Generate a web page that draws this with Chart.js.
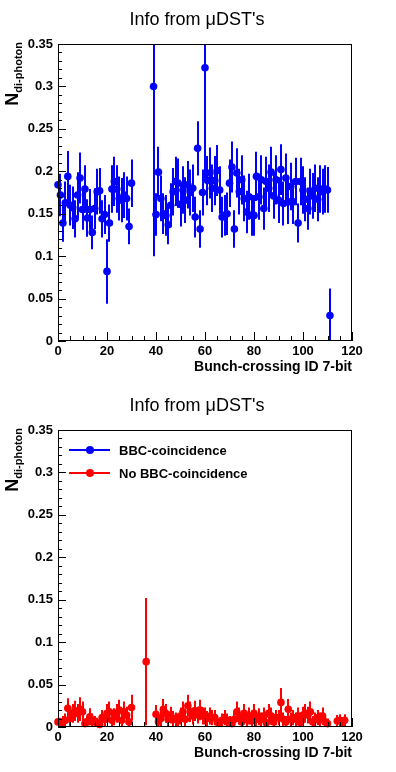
<!DOCTYPE html>
<html>
<head>
<meta charset="utf-8">
<script src="https://cdn.jsdelivr.net/npm/chart.js@4.4.1/dist/chart.umd.min.js"></script>
<style>
  html, body { margin: 0; padding: 0; background: #fff; }
  canvas { display: block; }
</style>
</head>
<body>
<canvas id="topChart" width="396" height="386"></canvas>
<canvas id="bottomChart" width="396" height="386"></canvas>
<script>
// values indexed by bunch-crossing ID, null = empty bin
const topValues = [
  0.184, 0.172, 0.139, 0.163, 0.194, 0.160, 0.157, 0.144, 0.172, 0.192,
  0.155, 0.179, 0.145, 0.155, 0.128, 0.156, 0.176, 0.177, 0.144, 0.149,
  0.082, 0.139, 0.179, 0.188, 0.179, 0.168, 0.166, 0.172, 0.168, 0.135,
  0.186, null, null, null, null, null, null, null, null, 0.300,
  0.149, 0.199, 0.168, 0.150, 0.148, 0.137, 0.160, 0.176, 0.188, 0.186,
  0.161, 0.178, 0.166, 0.184, 0.175, 0.180, 0.146, 0.227, 0.132, 0.175,
  0.322, 0.189, 0.198, 0.180, 0.189, 0.201, 0.178, 0.146, 0.148, 0.150,
  0.186, 0.205, 0.132, 0.198, 0.176, 0.190, 0.168, 0.152, 0.170, 0.148,
  0.148, 0.194, 0.170, 0.190, 0.156, 0.188, 0.180, 0.199, 0.171, 0.190,
  0.166, 0.202, 0.162, 0.192, 0.164, 0.182, 0.164, 0.188, 0.139, 0.188,
  0.178, 0.167, 0.156, 0.176, 0.171, 0.180, 0.167, 0.179, 0.176, 0.179,
  0.178, 0.030
];
const topErrors = [
  0.028, 0.025, 0.022, 0.025, 0.030, 0.024, 0.025, 0.022, 0.027, 0.030,
  0.024, 0.028, 0.022, 0.024, 0.020, 0.024, 0.027, 0.027, 0.022, 0.023,
  0.038, 0.022, 0.028, 0.029, 0.028, 0.026, 0.026, 0.027, 0.026, 0.021,
  0.028, null, null, null, null, null, null, null, null, 0.200,
  0.025, 0.030, 0.027, 0.024, 0.024, 0.023, 0.026, 0.028, 0.029, 0.029,
  0.026, 0.028, 0.027, 0.028, 0.027, 0.028, 0.024, 0.032, 0.022, 0.027,
  0.130, 0.029, 0.030, 0.028, 0.029, 0.030, 0.028, 0.024, 0.024, 0.025,
  0.028, 0.030, 0.022, 0.029, 0.027, 0.029, 0.027, 0.025, 0.027, 0.024,
  0.024, 0.029, 0.027, 0.029, 0.025, 0.029, 0.028, 0.030, 0.027, 0.029,
  0.027, 0.030, 0.026, 0.029, 0.026, 0.028, 0.026, 0.028, 0.023, 0.028,
  0.028, 0.026, 0.025, 0.027, 0.027, 0.028, 0.026, 0.028, 0.027, 0.028,
  0.027, 0.032
];
const bottomValues = [
  0.006, 0.005, 0.006, 0.008, 0.022, 0.010, 0.016, 0.019, 0.016, 0.021,
  0.018, 0.004, 0.006, 0.012, 0.008, 0.006, 0.005, 0.003, 0.011, 0.009,
  0.016, 0.018, 0.008, 0.012, 0.016, 0.020, 0.008, 0.018, 0.014, 0.006,
  0.023, null, null, null, null, null, 0.077, null, null, null,
  0.015, 0.006, 0.010, 0.021, 0.016, 0.009, 0.014, 0.010, 0.009, 0.007,
  0.013, 0.018, 0.009, 0.025, 0.018, 0.013, 0.019, 0.014, 0.020, 0.013,
  0.013, 0.010, 0.013, 0.011, 0.011, 0.006, 0.005, 0.008, 0.011, 0.008,
  0.006, 0.004, 0.009, 0.018, 0.013, 0.006, 0.016, 0.009, 0.013, 0.007,
  0.016, 0.009, 0.012, 0.009, 0.013, 0.005, 0.016, 0.013, 0.006, 0.011,
  0.011, 0.029, 0.009, 0.006, 0.021, 0.009, 0.011, 0.009, 0.013, 0.005,
  0.014, 0.016, 0.014, 0.018, 0.006, 0.009, 0.011, 0.009, 0.013, 0.006,
  0.004, null, null, null, 0.007, 0.008, 0.005, 0.008
];
const bottomErrors = [
  0.007, 0.006, 0.007, 0.008, 0.012, 0.009, 0.011, 0.012, 0.011, 0.014,
  0.012, 0.006, 0.007, 0.010, 0.008, 0.007, 0.006, 0.005, 0.009, 0.009,
  0.011, 0.012, 0.008, 0.010, 0.011, 0.012, 0.008, 0.012, 0.010, 0.007,
  0.015, null, null, null, null, null, 0.075, null, null, null,
  0.011, 0.007, 0.009, 0.012, 0.011, 0.008, 0.010, 0.009, 0.008, 0.007,
  0.010, 0.012, 0.008, 0.013, 0.012, 0.010, 0.012, 0.010, 0.012, 0.010,
  0.010, 0.009, 0.010, 0.009, 0.009, 0.007, 0.006, 0.008, 0.009, 0.008,
  0.007, 0.006, 0.008, 0.012, 0.010, 0.007, 0.011, 0.008, 0.010, 0.007,
  0.011, 0.008, 0.010, 0.008, 0.010, 0.006, 0.011, 0.010, 0.007, 0.009,
  0.009, 0.017, 0.008, 0.007, 0.012, 0.008, 0.009, 0.008, 0.010, 0.006,
  0.010, 0.011, 0.010, 0.012, 0.007, 0.008, 0.009, 0.008, 0.010, 0.007,
  0.006, null, null, null, 0.007, 0.007, 0.006, 0.007
];
const xTicks = [0, 20, 40, 60, 80, 100, 120];
const yTicks = [0, 0.05, 0.1, 0.15, 0.2, 0.25, 0.3, 0.35];
const legendNames = ['BBC-coincidence', 'No BBC-coincidence'];
const legendColors = ['#0000ff', '#ff0000'];

const FONT = '"Liberation Sans", Arial, sans-serif';

function toPoints(values, errors) {
  const pts = [];
  values.forEach((v, i) => {
    if (v !== null) pts.push({ x: i, y: v, err: errors[i] });
  });
  return pts;
}

const errorBars = {
  id: 'errorBars',
  beforeDatasetsDraw(chart) {
    const { ctx, chartArea: a, scales: { x, y } } = chart;
    ctx.save();
    ctx.beginPath();
    ctx.rect(a.left, a.top, a.width, a.height);
    ctx.clip();
    chart.data.datasets.forEach(ds => {
      ctx.strokeStyle = ds.backgroundColor;
      ctx.lineWidth = 2;
      ds.data.forEach(p => {
        const px = Math.round(x.getPixelForValue(p.x));
        ctx.beginPath();
        ctx.moveTo(px, y.getPixelForValue(p.y - p.err));
        ctx.lineTo(px, y.getPixelForValue(p.y + p.err));
        ctx.stroke();
      });
    });
    ctx.restore();
  }
};

// frame with ROOT style ticks pointing inward
const frame = {
  id: 'frame',
  afterDatasetsDraw(chart) {
    const { ctx, chartArea: a, scales: { x, y } } = chart;
    ctx.save();
    ctx.strokeStyle = '#000';
    ctx.lineWidth = 1;
    ctx.strokeRect(Math.round(a.left) + 0.5, Math.round(a.top) + 0.5,
      Math.round(a.width) - 1, Math.round(a.height) - 1);
    ctx.beginPath();
    for (let v = 0; v <= 120; v += 5) {
      const px = Math.round(x.getPixelForValue(v)) + 0.5;
      const len = v % 20 === 0 ? 9 : 5;
      ctx.moveTo(px, a.bottom);
      ctx.lineTo(px, a.bottom - len);
    }
    for (let k = 0; k <= 35; k++) {
      const py = Math.round(y.getPixelForValue(k / 100)) + 0.5;
      const len = k % 5 === 0 ? 8 : 4;
      ctx.moveTo(a.left, py);
      ctx.lineTo(a.left + len, py);
    }
    ctx.stroke();
    ctx.restore();
  }
};

// title and rotated y title with subscript
const labels = {
  id: 'labels',
  afterDraw(chart) {
    const { ctx, chartArea: a } = chart;
    ctx.save();
    ctx.fillStyle = '#000';
    ctx.textAlign = 'center';
    ctx.textBaseline = 'middle';
    ctx.font = '18px ' + FONT;
    ctx.fillText('Info from \u03bcDST\'s', 197, 20);

    ctx.textBaseline = 'alphabetic';
    ctx.textAlign = 'left';
    ctx.font = 'bold 18px ' + FONT;
    const wN = ctx.measureText('N').width;
    ctx.font = 'bold 11px ' + FONT;
    const wSub = ctx.measureText('di-photon').width;
    ctx.translate(18, a.top - 2 + wN + wSub);
    ctx.rotate(-Math.PI / 2);
    ctx.font = 'bold 18px ' + FONT;
    ctx.fillText('N', 0, 0);
    ctx.font = 'bold 11px ' + FONT;
    ctx.fillText('di-photon', wN, 4);
    ctx.restore();
  }
};

const boxLegend = {
  id: 'boxLegend',
  afterDraw(chart, args, opts) {
    if (!opts.show) return;
    const { ctx, chartArea: a } = chart;
    ctx.save();
    legendNames.forEach((name, i) => {
      const yy = a.top + 20 + i * 23;
      ctx.strokeStyle = legendColors[i];
      ctx.fillStyle = legendColors[i];
      ctx.lineWidth = 2;
      ctx.beginPath();
      ctx.moveTo(a.left + 11, yy);
      ctx.lineTo(a.left + 52, yy);
      ctx.stroke();
      ctx.beginPath();
      ctx.arc(a.left + 32, yy, 4, 0, Math.PI * 2);
      ctx.fill();
      ctx.fillStyle = '#000';
      ctx.font = 'bold 13px ' + FONT;
      ctx.textBaseline = 'middle';
      ctx.fillText(name, a.left + 61, yy + 1);
    });
    ctx.restore();
  }
};

function makeChart(id, label, values, errors, color, showLegend) {
  return new Chart(document.getElementById(id), {
    type: 'scatter',
    data: {
      datasets: [{
        label: label,
        data: toPoints(values, errors),
        backgroundColor: color,
        borderColor: color,
        borderWidth: 0,
        pointRadius: 3.8,
        pointHoverRadius: 3.8,
        clip: false
      }]
    },
    options: {
      responsive: false,
      animation: false,
      layout: { padding: { left: 0, right: 44, top: 44, bottom: 0 } },
      plugins: {
        legend: { display: false },
        tooltip: { enabled: false },
        title: { display: false },
        boxLegend: { show: showLegend }
      },
      scales: {
        x: {
          type: 'linear',
          min: 0,
          max: 120,
          grid: { display: false, drawTicks: false },
          border: { display: false },
          afterBuildTicks: s => { s.ticks = xTicks.map(v => ({ value: v })); },
          ticks: { color: '#000', padding: 3, maxRotation: 0, font: { family: FONT, size: 13, weight: 'bold' } },
          title: {
            display: true,
            text: 'Bunch-crossing ID 7-bit',
            align: 'end',
            color: '#000',
            font: { family: FONT, size: 14, weight: 'bold' },
            padding: { top: 0, bottom: 10 }
          },
          afterFit: s => { s.height = 45; }
        },
        y: {
          min: 0,
          max: 0.35,
          grid: { display: false, drawTicks: false },
          border: { display: false },
          afterBuildTicks: s => { s.ticks = yTicks.map(v => ({ value: v })); },
          ticks: {
            color: '#000',
            padding: 5,
            font: { family: FONT, size: 13, weight: 'bold' },
            callback: v => String(Number(v.toFixed(2)))
          },
          afterFit: s => { s.width = 58; }
        }
      }
    },
    plugins: [errorBars, frame, labels, boxLegend]
  });
}

makeChart('topChart', 'BBC-coincidence', topValues, topErrors, legendColors[0], false);
makeChart('bottomChart', 'No BBC-coincidence', bottomValues, bottomErrors, legendColors[1], true);
</script>
</body>
</html>
